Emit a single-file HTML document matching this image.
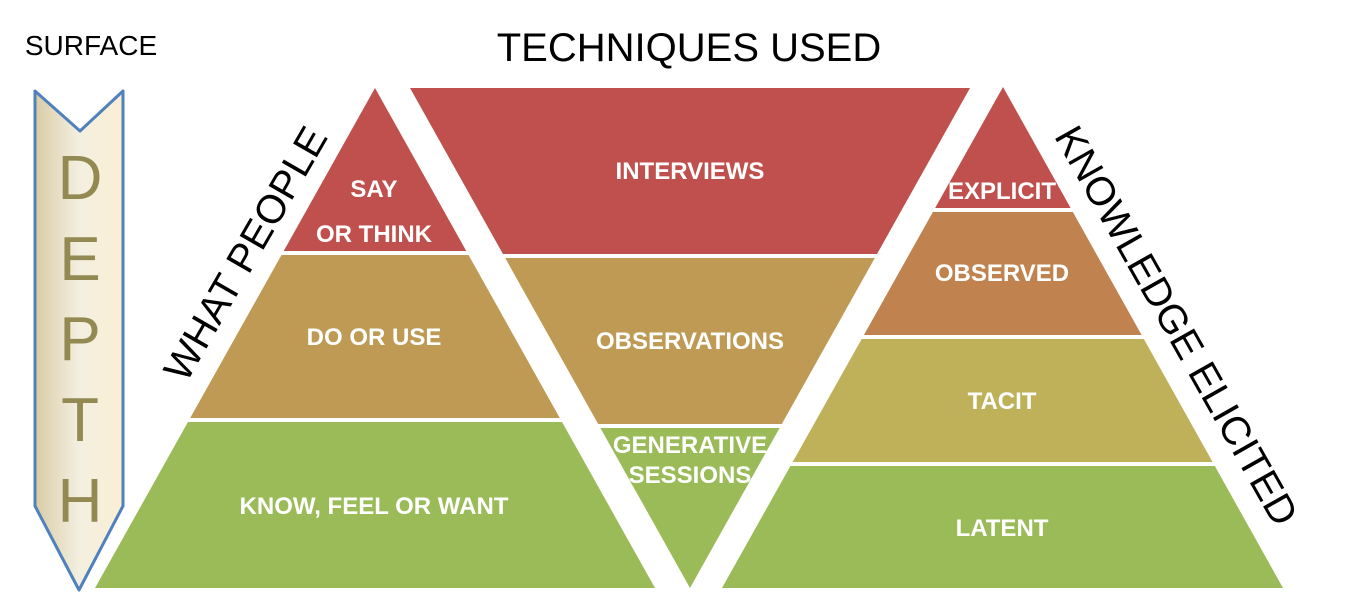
<!DOCTYPE html>
<html><head><meta charset="utf-8"><style>
html,body{margin:0;padding:0;background:#fff;width:1346px;height:597px;overflow:hidden}
svg text{font-family:"Liberation Sans",sans-serif}
.w{fill:#fff;font-weight:bold;font-size:24px;text-anchor:middle}
</style></head><body>
<svg width="1346" height="597" viewBox="0 0 1346 597" xmlns="http://www.w3.org/2000/svg">
<defs>
<linearGradient id="g" x1="0" x2="1" y1="0" y2="0">
<stop offset="0" stop-color="#d9cba6"/><stop offset="0.5" stop-color="#f3efe0"/><stop offset="1" stop-color="#fbefd4"/>
</linearGradient>
<clipPath id="L"><polygon points="375,88 95,588 655,588"/></clipPath>
<clipPath id="M"><polygon points="410,88 970,88 690,588"/></clipPath>
<clipPath id="R"><polygon points="1003,87 722,588 1283,588"/></clipPath>
</defs>
<polygon points="35,91 80,131 123,91 123,506 79,590 35,506" fill="url(#g)" stroke="#4f81bd" stroke-width="3" stroke-linejoin="round"/>
<g fill="#938953" font-size="62" text-anchor="middle" style="font-family:'Liberation Sans',sans-serif">
<text x="80" y="199">D</text><text x="80" y="280">E</text><text x="80" y="360">P</text><text x="80" y="441">T</text><text x="80" y="522">H</text>
</g>
<text x="91" y="55" font-size="28" text-anchor="middle">SURFACE</text>
<text x="689" y="61" font-size="40" text-anchor="middle">TECHNIQUES USED</text>

<g clip-path="url(#L)">
<rect x="0" y="80" width="700" height="171" fill="#c0504d"/>
<rect x="0" y="255" width="700" height="163" fill="#be9a54"/>
<rect x="0" y="422" width="700" height="170" fill="#9bbb59"/>
</g>
<g clip-path="url(#M)">
<rect x="400" y="80" width="600" height="174" fill="#c0504d"/>
<rect x="400" y="258" width="600" height="166" fill="#be9a54"/>
<rect x="400" y="428" width="600" height="165" fill="#9bbb59"/>
</g>
<g clip-path="url(#R)">
<rect x="700" y="80" width="600" height="128" fill="#c0504d"/>
<rect x="700" y="212" width="600" height="123" fill="#c0834f"/>
<rect x="700" y="339" width="600" height="123" fill="#bfb05a"/>
<rect x="700" y="466" width="600" height="125" fill="#9bbb59"/>
</g>

<text class="w" x="374" y="197">SAY</text>
<text class="w" x="374" y="242">OR THINK</text>
<text class="w" x="374" y="345">DO OR USE</text>
<text class="w" x="374" y="514">KNOW, FEEL OR WANT</text>
<text class="w" x="690" y="179">INTERVIEWS</text>
<text class="w" x="690" y="349">OBSERVATIONS</text>
<text class="w" x="690" y="453">GENERATIVE</text>
<text class="w" x="690" y="483">SESSIONS</text>
<text class="w" x="1002" y="199">EXPLICIT</text>
<text class="w" x="1002" y="281">OBSERVED</text>
<text class="w" x="1002" y="409">TACIT</text>
<text class="w" x="1002" y="536">LATENT</text>

<text transform="translate(246,254) rotate(-60)" font-size="40" text-anchor="middle" dominant-baseline="central">WHAT PEOPLE</text>
<text transform="translate(1176,326) rotate(60.5)" font-size="40" text-anchor="middle" dominant-baseline="central">KNOWLEDGE ELICITED</text>
</svg>
</body></html>
